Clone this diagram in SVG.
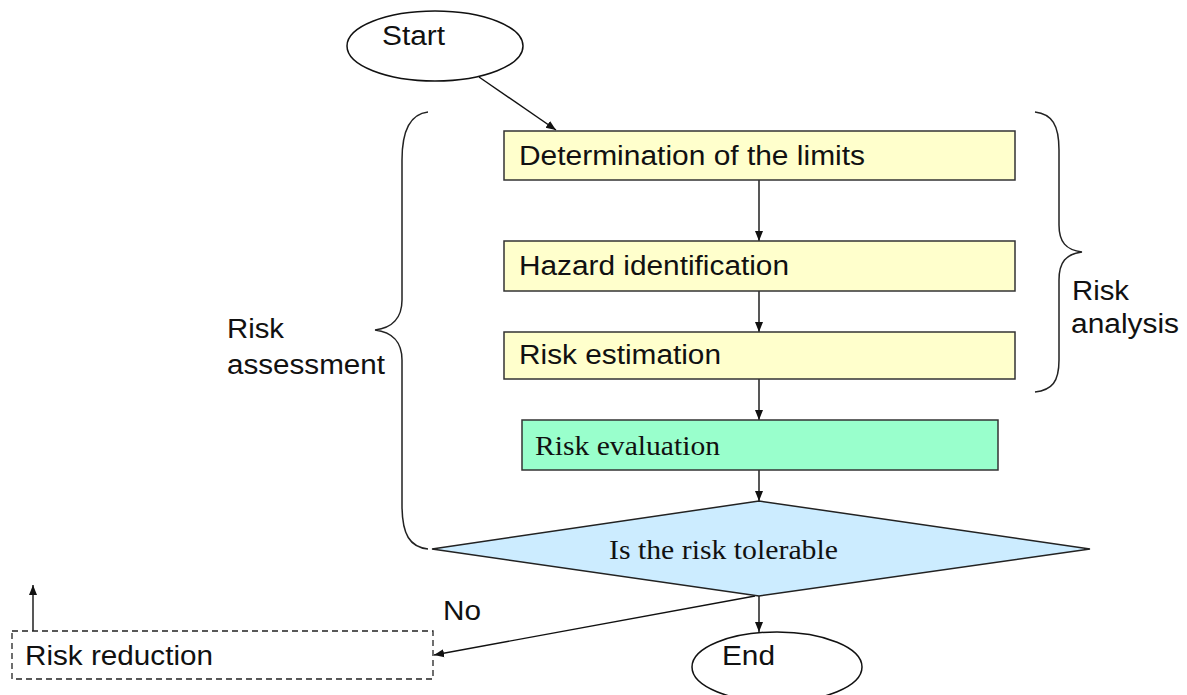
<svg xmlns="http://www.w3.org/2000/svg" width="1187" height="695" viewBox="0 0 1187 695">
  <style>
    .sans { font-family: "Liberation Sans", Arial, sans-serif; font-size: 27px; fill: #111; }
    .serif { font-family: "Liberation Serif", "Times New Roman", serif; font-size: 27px; fill: #111; }
    .term { fill: #fff; stroke: #111; stroke-width: 1.5; }
    .step { fill: #FFFFCC; stroke: #333; stroke-width: 1.5; }
    .eval { fill: #99FFCC; stroke: #333; stroke-width: 1.5; }
    .decision { fill: #CCECFF; stroke: #222; stroke-width: 1.5; }
    .dashed { fill: none; stroke: #222; stroke-width: 1.3; stroke-dasharray: 6 4; }
    .brace { fill: none; stroke: #222; stroke-width: 1.5; }
    .edge { fill: none; stroke: #111; stroke-width: 1.4; marker-end: url(#arrow); }
  </style>
  <defs>
    <marker id="arrow" viewBox="0 0 10 10" refX="10" refY="5" markerWidth="10" markerHeight="10" markerUnits="userSpaceOnUse" orient="auto">
      <path d="M0,1 L10,5 L0,9 Z" fill="#111"/>
    </marker>
  </defs>
  <rect width="1187" height="695" fill="#fff"/>

  <!-- braces grouping the steps -->
  <g id="brace-assessment">
    <path class="brace" d="M428,112 C410,114 402,130 402,160 L402,300 C402,318 392,328 375,330 C392,332 402,342 402,360 L402,505 C402,535 410,547 428,549"/>
    <text class="sans" x="227" y="338" textLength="57" lengthAdjust="spacingAndGlyphs">Risk</text>
    <text class="sans" x="227" y="374" textLength="158" lengthAdjust="spacingAndGlyphs">assessment</text>
  </g>
  <g id="brace-analysis">
    <path class="brace" d="M1035,112 C1052,114 1059,125 1059,150 L1059,225 C1059,242 1066,250 1082,252 C1066,254 1059,262 1059,280 L1059,360 C1059,382 1052,390 1035,392"/>
    <text class="sans" x="1072" y="300" textLength="57" lengthAdjust="spacingAndGlyphs">Risk</text>
    <text class="sans" x="1071" y="333" textLength="108" lengthAdjust="spacingAndGlyphs">analysis</text>
  </g>

  <!-- connectors -->
  <g id="connectors">
    <line class="edge" x1="479" y1="77" x2="556" y2="130"/>
    <line class="edge" x1="759" y1="180" x2="759" y2="241"/>
    <line class="edge" x1="759" y1="291" x2="759" y2="332"/>
    <line class="edge" x1="759" y1="379" x2="759" y2="420"/>
    <line class="edge" x1="759" y1="470" x2="759" y2="501"/>
    <line class="edge" x1="759" y1="596" x2="759" y2="632"/>
    <line class="edge" x1="755" y1="596" x2="434" y2="655"/>
    <line class="edge" x1="33" y1="631" x2="33" y2="585"/>
    <text class="sans" x="443" y="620" textLength="38" lengthAdjust="spacingAndGlyphs">No</text>
  </g>

  <!-- nodes -->
  <g id="start">
    <ellipse class="term" cx="435" cy="46" rx="88" ry="35"/>
    <text class="sans" x="382" y="45" textLength="63" lengthAdjust="spacingAndGlyphs">Start</text>
  </g>
  <g id="limits">
    <rect class="step" x="504" y="131" width="511" height="49"/>
    <text class="sans" x="519" y="165" textLength="346" lengthAdjust="spacingAndGlyphs">Determination of the limits</text>
  </g>
  <g id="hazard">
    <rect class="step" x="504" y="241" width="511" height="50"/>
    <text class="sans" x="519" y="275" textLength="270" lengthAdjust="spacingAndGlyphs">Hazard identification</text>
  </g>
  <g id="estimation">
    <rect class="step" x="504" y="332" width="511" height="47"/>
    <text class="sans" x="519" y="364" textLength="202" lengthAdjust="spacingAndGlyphs">Risk estimation</text>
  </g>
  <g id="evaluation">
    <rect class="eval" x="522" y="420" width="476" height="50"/>
    <text class="serif" x="535" y="455" textLength="185" lengthAdjust="spacingAndGlyphs">Risk evaluation</text>
  </g>
  <g id="tolerable">
    <polygon class="decision" points="432,549 759,501 1090,549 759,596"/>
    <text class="serif" x="609" y="559" textLength="229" lengthAdjust="spacingAndGlyphs">Is the risk tolerable</text>
  </g>
  <g id="end">
    <ellipse class="term" cx="777" cy="667" rx="85" ry="35"/>
    <text class="sans" x="722" y="665" textLength="53" lengthAdjust="spacingAndGlyphs">End</text>
  </g>
  <g id="reduction">
    <rect class="dashed" x="12" y="631" width="421" height="48"/>
    <text class="sans" x="25" y="665" textLength="188" lengthAdjust="spacingAndGlyphs">Risk reduction</text>
  </g>
</svg>
